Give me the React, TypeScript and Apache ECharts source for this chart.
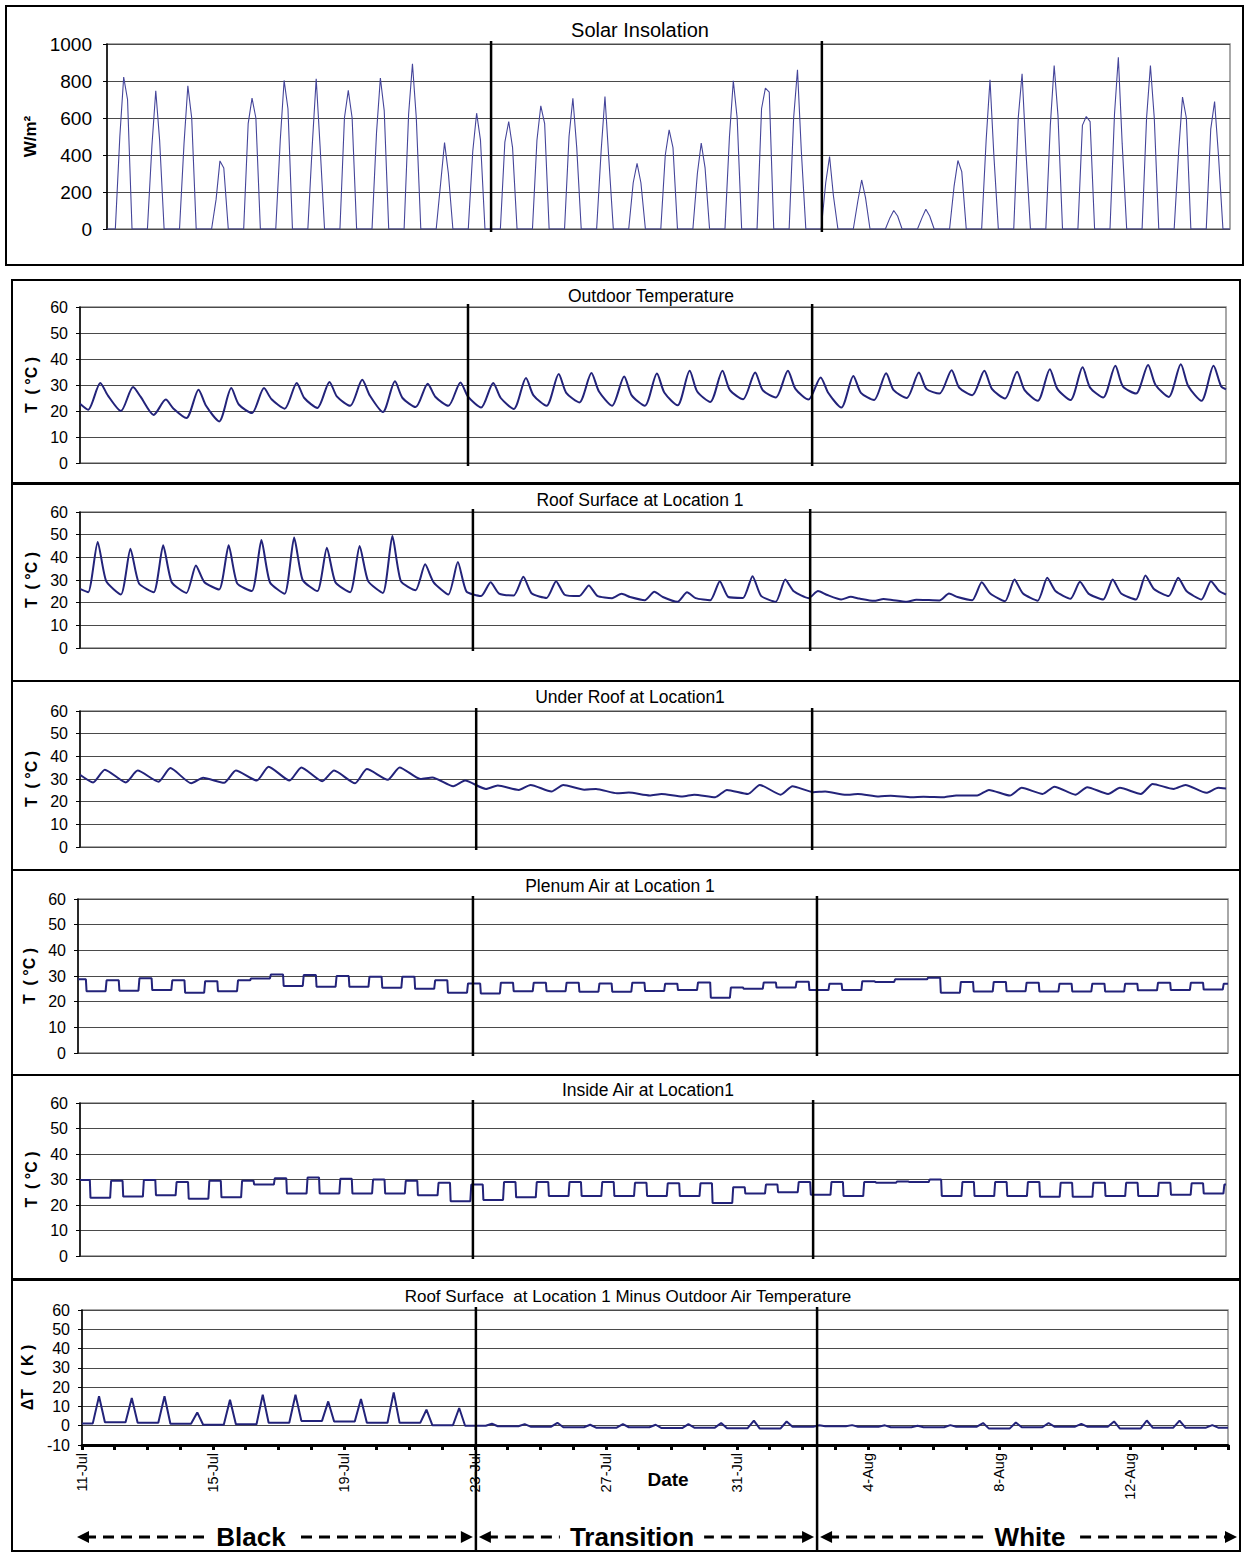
import React, { useEffect, useRef } from 'react';
import * as echarts from 'echarts';

const FONT = '"Liberation Sans", Arial, Helvetica, sans-serif';
const DAYS = 35; // 11-Jul 00:00 .. 15-Aug 00:00

const dateLabels = ['11-Jul', '15-Jul', '19-Jul', '23-Jul', '27-Jul', '31-Jul', '4-Aug', '8-Aug', '12-Aug'];
const phaseLabels = ['Black', 'Transition', 'White'];

// Solar insolation (W/m2): mid-morning, midday peak, mid-afternoon
const solarAM = [500, 450, 460, 160, 570, 480, 460, 600, 520, 620, 250, 420,
  470, 480, 500, 420, 250, 400, 300, 500, 650, 600,
  250, 150, 60, 60, 230, 480, 600, 560, 560, 620, 600, 420, 540];
const solarPeak = [821, 747, 774, 368, 707, 803, 812, 749, 816, 893, 467, 626,
  581, 666, 707, 716, 355, 536, 464, 801, 762, 861,
  392, 265, 100, 107, 370, 807, 839, 884, 608, 928, 884, 713, 689];
const solarPM = [700, 480, 600, 330, 600, 650, 450, 600, 640, 600, 300, 480,
  440, 570, 440, 380, 250, 440, 330, 600, 740, 420,
  180, 170, 70, 70, 310, 400, 420, 610, 580, 460, 600, 600, 400];

// Outdoor temperature (C): early-morning minimum, afternoon maximum, late evening
const outdoorStartEnd = [22.8, 28.3];
const outdoorMin = [20.5, 20.0, 18.5, 17.3, 16.0, 19.2, 20.9, 21.2, 22.0, 19.6, 21.5, 22.0,
  21.3, 20.8, 22.0, 23.3, 22.0, 22.0, 22.2, 23.5, 24.5, 25.2,
  24.4, 21.3, 24.2, 25.0, 26.7, 26.1, 24.8, 23.9, 24.2, 25.2, 26.7, 25.4, 23.9];
const outdoorMax = [30.8, 29.2, 24.4, 28.2, 28.8, 28.8, 30.8, 31.2, 32.0, 31.4, 30.5, 31.0,
  30.8, 32.7, 34.2, 34.6, 33.3, 34.4, 35.5, 35.5, 34.8, 35.5,
  32.9, 33.5, 34.5, 34.8, 35.7, 35.5, 35.1, 36.1, 36.8, 37.4, 37.7, 38.0, 37.4];
const outdoorEve = [26.0, 25.5, 21.0, 22.0, 22.5, 24.5, 25.0, 25.5, 26.0, 25.0, 25.5, 25.5,
  25.0, 26.0, 27.0, 27.5, 26.0, 27.0, 27.5, 28.0, 28.0, 28.5,
  27.0, 27.0, 28.0, 28.5, 29.0, 28.5, 28.0, 28.5, 29.0, 29.5, 30.0, 29.5, 29.5];

// Roof surface (C): morning min, midday max, evening value
const roofStartEnd = [26.1, 23.6];
const roofMin = [24.6, 23.6, 24.6, 24.3, 25.8, 25.1, 23.9, 25.1, 24.6, 24.3, 25.5, 23.6,
  22.9, 23.2, 22.1, 22.9, 22.0, 21.1, 20.4, 21.1, 22.1, 20.4,
  22.0, 21.4, 20.8, 20.4, 21.0, 21.1, 20.6, 20.9, 21.7, 21.4, 21.4, 22.9, 21.4];
const roofMax = [46.8, 43.8, 45.3, 36.4, 45.3, 47.6, 48.7, 44.2, 45.0, 49.4, 36.9, 37.9,
  29.0, 31.4, 29.5, 27.6, 23.9, 24.8, 24.6, 29.5, 31.7, 30.2,
  25.1, 22.6, 21.6, 21.3, 24.0, 29.0, 30.2, 31.0, 29.2, 30.2, 32.0, 31.0, 29.5];
const roofEve = [29.5, 28.5, 29.0, 29.0, 28.5, 29.0, 30.0, 29.0, 29.5, 29.5, 29.0, 25.0,
  24.0, 24.0, 23.5, 23.0, 22.5, 22.5, 22.0, 22.5, 23.0, 25.0,
  23.5, 21.8, 21.2, 21.2, 22.5, 24.0, 24.0, 25.0, 24.0, 24.0, 26.0, 25.0, 25.0];

// Under roof (C)
const underStartEnd = [31.9, 25.8];
const underMin = [28.5, 28.5, 28.8, 28.1, 28.3, 29.3, 29.3, 29.0, 28.1, 29.7, 30.0, 26.8,
  25.6, 25.2, 24.5, 25.3, 23.7, 22.7, 22.3, 22.0, 23.4, 23.1,
  24.2, 23.0, 22.3, 22.0, 22.0, 22.7, 22.7, 23.4, 23.1, 23.4, 23.4, 25.6, 23.9];
const underMax = [34.1, 33.7, 34.8, 30.5, 33.7, 35.4, 35.1, 33.7, 34.4, 35.1, 30.7, 29.3,
  27.1, 27.4, 27.4, 25.6, 24.0, 23.4, 23.1, 25.2, 27.4, 26.8,
  24.5, 23.4, 22.6, 22.2, 22.7, 25.2, 26.1, 26.6, 26.4, 26.1, 27.8, 27.4, 26.1];

// Plenum air (C): night plateau (36 nights) and daytime level (35 days)
const plenumNight = [28.7, 28.3, 29.1, 28.3, 28.0, 28.3, 30.6, 30.4, 30.0, 29.7, 29.7, 28.3,
  27.1, 27.4, 27.4, 27.4, 27.1, 27.4, 27.0, 27.5, 25.5, 27.5,
  27.8, 27.0, 28.0, 28.7, 29.3, 27.7, 27.7, 27.4, 27.0, 27.0, 27.0, 27.4, 27.4, 27.0];
const plenumDay = [24.1, 24.3, 24.5, 23.5, 24.1, 29.0, 26.1, 25.8, 25.8, 25.4, 25.0, 23.5,
  23.2, 24.1, 24.1, 23.9, 23.9, 24.2, 24.5, 21.5, 25.0, 25.5,
  24.5, 24.5, 27.7, 28.7, 23.5, 24.0, 24.1, 24.0, 24.0, 24.0, 24.4, 24.5, 24.7];

// Inside air (C)
const insideNight = [29.8, 29.5, 29.8, 29.0, 29.5, 29.5, 30.5, 30.8, 30.3, 30.0, 29.5, 28.7,
  28.0, 29.0, 29.0, 29.0, 29.0, 28.7, 28.5, 28.5, 27.0, 28.0,
  29.0, 29.0, 29.0, 29.2, 30.0, 29.0, 29.0, 29.0, 28.7, 28.7, 28.7, 28.7, 28.5, 28.0];
const insideDay = [22.8, 23.3, 23.8, 22.5, 23.0, 28.0, 24.5, 24.5, 24.5, 24.5, 23.8, 21.5,
  22.0, 23.0, 23.5, 23.5, 23.5, 23.5, 23.5, 20.8, 24.5, 25.0,
  24.0, 23.5, 28.7, 29.0, 23.5, 23.5, 23.5, 23.2, 23.2, 23.5, 23.5, 24.0, 24.5];

// Roof surface minus outdoor air (K): night level (36) and midday peak (35)
const deltaNight = [1.2, 1.8, 1.5, 1.0, 0.5, 0.8, 1.5, 2.5, 2.2, 1.5, 1.5, 0.3,
  0.0, -0.3, -0.5, -0.8, -1.0, -0.8, -1.2, -1.0, -1.3, -1.5,
  -0.5, -0.3, -0.5, -0.8, -0.8, -0.5, -1.5, -0.8, -0.5, -0.5, -1.5, -1.0, -1.0, -1.0];
const deltaPeak = [15.3, 14.4, 15.3, 6.9, 13.5, 16.1, 16.1, 12.6, 13.9, 17.3, 8.3, 9.2,
  1.0, 0.8, 1.5, 0.5, 0.8, 0.5, 0.8, 1.4, 2.6, 2.2,
  0.2, 0.3, 0.2, 0.0, 0.3, 1.4, 1.7, 1.4, 1.0, 2.2, 2.7, 2.6, 0.3];

// day positions of the two phase-change markers in each panel
const solarDividers = [11.97, 22.28];
const outdoorDividers = [11.85, 22.36];
const roofDividers = [12.0, 22.3];
const underDividers = [12.1, 22.36];
const plenumDividers = [12.02, 22.49];
const insideDividers = [12.0, 22.39];
const deltaDividers = [12.03, 22.45];

function solarPoints() {
  const pts: number[][] = [[0, 0]];
  solarPeak.forEach((p, d) => {
    pts.push([d + 0.26, 0], [d + 0.4, solarAM[d]], [d + 0.52, p], [d + 0.64, solarPM[d]], [d + 0.78, 0]);
  });
  pts.push([DAYS, 0]);
  return pts;
}
function cyclePoints(se: number[], lows: number[], highs: number[], tLow: number, tHigh: number, eves?: number[], tEve?: number) {
  const pts: number[][] = [[0, se[0]]];
  lows.forEach((lo, d) => {
    pts.push([d + tLow, lo], [d + tHigh, highs[d]]);
    if (eves && tEve) pts.push([d + tEve, eves[d]]);
  });
  pts.push([DAYS, se[1]]);
  return pts;
}
function stepPoints(nights: number[], days: number[], tDrop: number, tRise: number) {
  const pts: number[][] = [[0, nights[0]]];
  days.forEach((v, d) => {
    pts.push([d + tDrop, nights[d]], [d + tDrop + 0.02, v], [d + tRise, v], [d + tRise + 0.03, nights[d + 1]]);
  });
  pts.push([DAYS, nights[DAYS]]);
  return pts;
}
function spikePoints(nights: number[], peaks: number[]) {
  const pts: number[][] = [[0, nights[0]]];
  peaks.forEach((p, d) => { pts.push([d + 0.33, nights[d]], [d + 0.52, p], [d + 0.7, nights[d + 1]]); });
  pts.push([DAYS, nights[DAYS]]);
  return pts;
}

const T_NAME = 'T  ( °C )';
const PANELS = [
  { title: 'Solar Insolation', tx: 640, ty: 30, ts: 20, box: [6, 6, 1237, 259], left: 107, right: 14, top: 44, height: 185,
    min: 0, max: 1000, step: 200, name: 'W/m²', gap: 55, ls: 19, lm: 15, ns: 17, data: solarPoints(), color: '#45459a', lw: 1.1, smooth: 0, div: solarDividers },
  { title: 'Outdoor Temperature', tx: 651, ty: 296, ts: 17.5, box: [12, 280, 1228, 203], left: 80, right: 18, top: 307, height: 156,
    min: 0, max: 60, step: 10, name: T_NAME, gap: 32, ls: 16, lm: 12, ns: 16, data: cyclePoints(outdoorStartEnd, outdoorMin, outdoorMax, 0.25, 0.62, outdoorEve, 0.85), color: '#23237a', lw: 2, smooth: 0.25, div: outdoorDividers },
  { title: 'Roof Surface at Location 1', tx: 640, ty: 500, ts: 17.5, box: [12, 484, 1228, 197], left: 80, right: 18, top: 512, height: 136,
    min: 0, max: 60, step: 10, name: T_NAME, gap: 32, ls: 16, lm: 12, ns: 16, data: cyclePoints(roofStartEnd, roofMin, roofMax, 0.25, 0.54, roofEve, 0.8), color: '#23237a', lw: 2, smooth: 0.2, div: roofDividers },
  { title: 'Under Roof at Location1', tx: 630, ty: 697, ts: 17.5, box: [12, 681, 1228, 189], left: 80, right: 18, top: 711, height: 136,
    min: 0, max: 60, step: 10, name: T_NAME, gap: 32, ls: 16, lm: 12, ns: 16, data: cyclePoints(underStartEnd, underMin, underMax, 0.4, 0.76), color: '#23237a', lw: 2, smooth: 0.2, div: underDividers },
  { title: 'Plenum Air at Location 1', tx: 620, ty: 886, ts: 17.5, box: [12, 870, 1228, 205], left: 78, right: 16, top: 899, height: 154,
    min: 0, max: 60, step: 10, name: T_NAME, gap: 30, ls: 16, lm: 12, ns: 16, data: stepPoints(plenumNight, plenumDay, 0.24, 0.84), color: '#23237a', lw: 2, smooth: 0, div: plenumDividers },
  { title: 'Inside Air at Location1', tx: 648, ty: 1090, ts: 17.5, box: [12, 1075, 1228, 204], left: 80, right: 18, top: 1103, height: 153,
    min: 0, max: 60, step: 10, name: T_NAME, gap: 32, ls: 16, lm: 12, ns: 16, data: stepPoints(insideNight, insideDay, 0.3, 0.92), color: '#23237a', lw: 2, smooth: 0, div: insideDividers },
  { title: 'Roof Surface  at Location 1 Minus Outdoor Air Temperature', tx: 628, ty: 1296, ts: 17, box: [12, 1280, 1228, 271], left: 82, right: 16, top: 1310, height: 135,
    min: -10, max: 60, step: 10, name: 'ΔT   ( K )', gap: 38, ls: 16, lm: 12, ns: 16, data: spikePoints(deltaNight, deltaPeak), color: '#23237a', lw: 2, smooth: 0, div: deltaDividers },
];

export default function App() {
  const ref = useRef<HTMLDivElement>(null);
  useEffect(() => {
    if (!ref.current) return;
    const chart = echarts.init(ref.current, null, { renderer: 'svg' });
    const last = PANELS.length - 1;
    chart.setOption({
      animation: false,
      textStyle: { fontFamily: FONT },
      grid: PANELS.map(p => ({ left: p.left, right: p.right, top: p.top, height: p.height, show: true, borderColor: '#8c8c8c', borderWidth: 1.5 })),
      xAxis: PANELS.map((p, i) => ({
        gridIndex: i, type: 'value', min: 0, max: DAYS, interval: 1,
        axisLine: { show: i === last, onZero: false, lineStyle: { color: '#000', width: 3 } },
        axisTick: { show: i === last, length: 5, lineStyle: { color: '#000', width: 3 } },
        axisLabel: {
          show: i === last, rotate: 90, fontSize: 14.5, color: '#000', fontFamily: FONT, margin: 8,
          formatter: (v: number) => (v % 4 === 0 && dateLabels[v / 4]) ? dateLabels[v / 4] : '',
        },
        splitLine: { show: false },
      })),
      yAxis: PANELS.map((p, i) => ({
        gridIndex: i, type: 'value', min: p.min, max: p.max, interval: p.step,
        name: p.name, nameLocation: 'middle', nameGap: p.gap, nameRotate: 90,
        nameTextStyle: { fontWeight: 'bold', fontSize: p.ns, color: '#000', fontFamily: FONT },
        axisLine: { show: true, onZero: false, lineStyle: { color: '#000', width: 1.5 } },
        axisTick: { show: true, length: 4, lineStyle: { color: '#000' } },
        axisLabel: { fontSize: p.ls, color: '#000', margin: p.lm, fontFamily: FONT, formatter: (v: number) => String(v) },
        splitLine: { show: true, lineStyle: { color: '#4a4a4a', width: 1 } },
      })),
      series: PANELS.map((p, i) => ({
        type: 'line', xAxisIndex: i, yAxisIndex: i, data: p.data, showSymbol: false, symbol: 'none',
        smooth: p.smooth || false, lineStyle: { color: p.color, width: p.lw }, silent: true,
      })),
    });

    const g: any[] = [];
    PANELS.forEach((p, i) => {
      g.push({ type: 'rect', z: 90, shape: { x: p.box[0], y: p.box[1], width: p.box[2], height: p.box[3] }, style: { fill: 'none', stroke: '#000', lineWidth: 2 } });
      g.push({ type: 'text', z: 90, style: { text: p.title, x: p.tx, y: p.ty, textAlign: 'center', textVerticalAlign: 'middle', font: `${p.ts}px ${FONT}`, fill: '#000' } });
      const yTop = chart.convertToPixel({ yAxisIndex: i }, p.max) as number;
      const yBot = chart.convertToPixel({ yAxisIndex: i }, p.min) as number;
      p.div.forEach(dv => {
        const x = chart.convertToPixel({ xAxisIndex: i }, dv) as number;
        g.push({ type: 'line', z: 95, shape: { x1: x, y1: yTop - 3, x2: x, y2: i === last ? 1552 : yBot + 3 }, style: { stroke: '#000', lineWidth: 2.5 } });
      });
    });
    // bottom annotations
    const li = last;
    const gl = chart.convertToPixel({ xAxisIndex: li }, 0) as number;
    const gr = chart.convertToPixel({ xAxisIndex: li }, DAYS) as number;
    const d1 = chart.convertToPixel({ xAxisIndex: li }, PANELS[li].div[0]) as number;
    const d2 = chart.convertToPixel({ xAxisIndex: li }, PANELS[li].div[1]) as number;
    g.push({ type: 'text', z: 90, style: { text: 'Date', x: 668, y: 1479, textAlign: 'center', textVerticalAlign: 'middle', font: `bold 19px ${FONT}`, fill: '#000' } });
    const ay = 1537;
    const segs = [[gl - 5, d1 - 3, 251], [d1 + 3, d2 - 3, 632], [d2 + 3, gr + 9, 1030]];
    segs.forEach(([a, b, c], k) => {
      g.push({ type: 'line', z: 91, shape: { x1: a + 8, y1: ay, x2: b - 8, y2: ay }, style: { stroke: '#000', lineWidth: 3, lineDash: [11, 7] } });
      g.push({ type: 'polygon', z: 92, shape: { points: [[a, ay], [a + 12, ay - 6], [a + 12, ay + 6]] }, style: { fill: '#000' } });
      g.push({ type: 'polygon', z: 92, shape: { points: [[b, ay], [b - 12, ay - 6], [b - 12, ay + 6]] }, style: { fill: '#000' } });
      g.push({ type: 'text', z: 93, style: { text: phaseLabels[k], x: c, y: ay, textAlign: 'center', textVerticalAlign: 'middle', font: `bold 26px ${FONT}`, fill: '#000', backgroundColor: '#fff', padding: [0, 10] } });
    });
    chart.setOption({ graphic: g });
    return () => chart.dispose();
  }, []);
  return <div ref={ref} style={{ position: 'absolute', left: 0, top: 0, width: 1244, height: 1552, background: '#fff' }} />;
}
